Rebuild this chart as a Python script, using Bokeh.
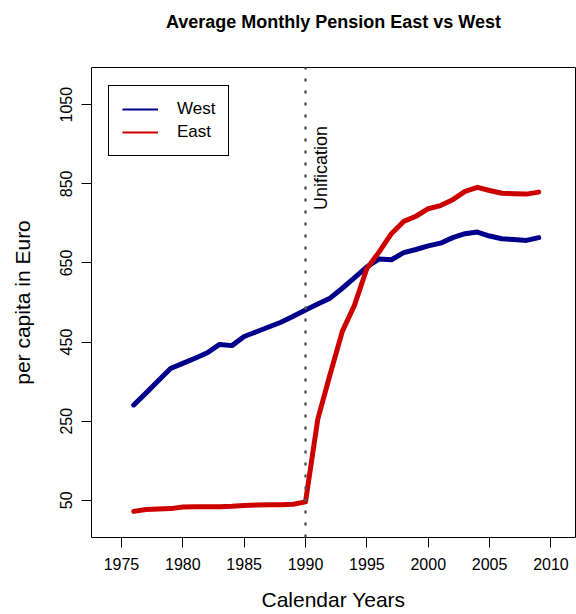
from math import pi
from bokeh.plotting import figure
from bokeh.models import Range1d, FixedTicker, Span, Label, Legend, LegendItem, ColumnDataSource, Title
from bokeh.embed import file_html
from bokeh.resources import INLINE

years = list(range(1976, 2010))
west = [291, 321, 352, 383, 396, 409, 423, 444, 441, 464, 476, 488, 500, 515, 531,
        546, 561, 586, 613, 640, 660, 658, 676, 684, 693, 700, 714, 724, 728, 718,
        711, 709, 707, 714]
east = [22, 27, 28, 29, 33, 34, 34, 34, 35, 37, 38, 39, 39, 40, 46,
        255, 368, 477, 544, 636, 678, 724, 755, 768, 787, 795, 810, 831, 841, 833,
        826, 825, 824, 829]
x_ticks = [1975, 1980, 1985, 1990, 1995, 2000, 2005, 2010]
y_ticks = [50, 250, 450, 650, 850, 1050]
unification_year = 1990
title_text = "Average Monthly Pension East vs West"

FONT = "Liberation Sans"

src = ColumnDataSource(dict(year=years, west=west, east=east))

p = figure(width=576, height=614, output_backend="svg", toolbar_location=None,
           x_range=Range1d(1972.56, 2012.0), y_range=Range1d(-44, 1144),
           min_border_left=91, min_border_right=1, min_border_top=67, min_border_bottom=77)

p.xgrid.visible = False
p.ygrid.visible = False
p.outline_line_color = "#000000"
p.outline_line_width = 1
p.outline_line_alpha = 1
p.background_fill_color = "white"
p.border_fill_color = "white"

for ax in (p.xaxis[0], p.yaxis[0]):
    ax.axis_line_color = None
    ax.major_tick_line_color = "#000000"
    ax.major_tick_out = 10
    ax.major_tick_in = 0
    ax.minor_tick_line_color = None
    ax.major_label_text_font = FONT
    ax.major_label_text_font_size = "16px"
    ax.major_label_text_color = "#000000"
    ax.axis_label_text_font = FONT
    ax.axis_label_text_font_size = "21px"
    ax.axis_label_text_font_style = "normal"
    ax.axis_label_text_color = "#000000"

p.xaxis.ticker = FixedTicker(ticks=x_ticks)
p.yaxis.ticker = FixedTicker(ticks=y_ticks)
p.xaxis.axis_label = "Calendar Years"
p.yaxis.axis_label = "per capita in Euro"
p.xaxis.major_label_standoff = 10
p.xaxis.axis_label_standoff = 15
p.yaxis.major_label_orientation = "vertical"
p.yaxis.major_label_standoff = 9
p.yaxis.axis_label_standoff = 24

# spacer (closest to the frame) then the real title further out
p.add_layout(Title(text=" ", text_font_size="2px", standoff=27), "above")
p.add_layout(Title(text=title_text, align="center", text_font=FONT, text_font_size="18px",
                   text_font_style="bold", text_color="#000000", standoff=10), "above")

# thin lines for legend swatches (hidden under the thick lines)
lw_west = p.line("year", "west", source=src, line_color="#00008B", line_width=2)
lw_east = p.line("year", "east", source=src, line_color="#CD0000", line_width=2)

p.line("year", "west", source=src, line_color="#00008B", line_width=5,
       line_join="round", line_cap="round")
p.line("year", "east", source=src, line_color="#CD0000", line_width=5,
       line_join="round", line_cap="round")

span = Span(location=unification_year, dimension="height", line_color="#555555",
            line_width=2.5, line_dash="1 11", line_cap="round")
p.add_layout(span)

lab = Label(x=unification_year + 1.3, y=784, text="Unification", angle=pi / 2,
            text_align="left", text_baseline="middle", text_font=FONT,
            text_font_size="18px", text_color="#000000")
p.add_layout(lab)

legend = Legend(items=[LegendItem(label="West", renderers=[lw_west]),
                       LegendItem(label="East", renderers=[lw_east])],
                location=(17, 381), orientation="vertical")
legend.border_line_color = "#000000"
legend.border_line_width = 1
legend.border_line_alpha = 1
legend.background_fill_alpha = 1
legend.label_text_font = FONT
legend.label_text_font_size = "17px"
legend.label_text_color = "#000000"
legend.glyph_width = 36
legend.glyph_height = 20
legend.spacing = 3
legend.padding = 13
legend.margin = 0
legend.label_standoff = 19
p.add_layout(legend, "center")

open("out.html", "w").write(file_html(p, INLINE))
